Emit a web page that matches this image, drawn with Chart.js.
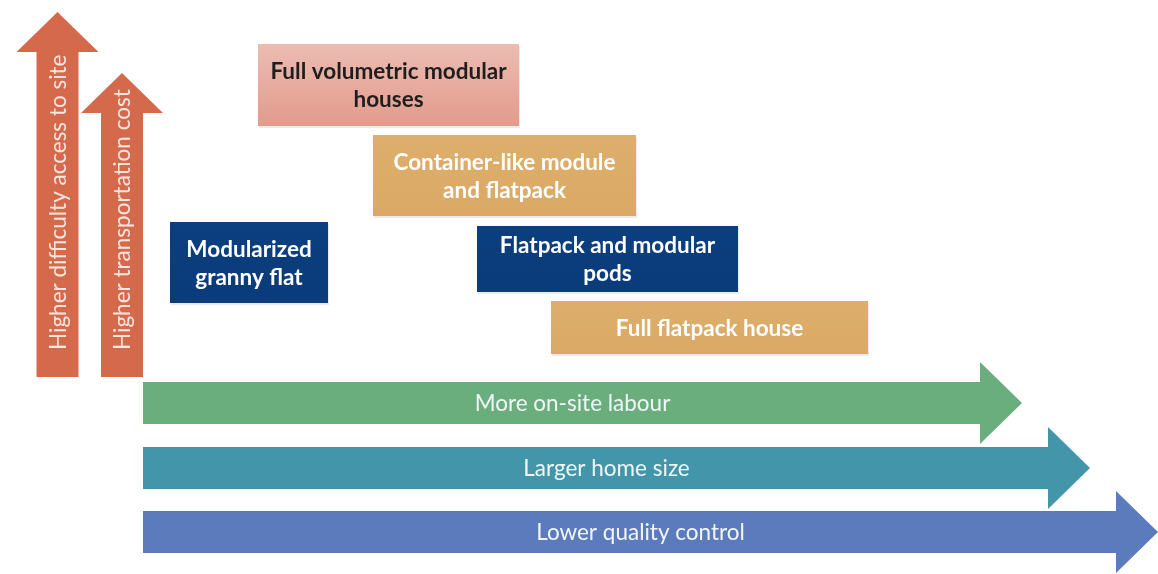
<!DOCTYPE html>
<html>
<head>
<meta charset="utf-8">
<script src="https://cdn.jsdelivr.net/npm/chart.js@4"></script>
<style>
  html, body { margin: 0; padding: 0; background: #ffffff; }
  #wrap { width: 1158px; height: 574px; position: relative; }
</style>
</head>
<body>
<div id="wrap"><canvas id="diagram"></canvas></div>
<script>
// Boxes (housing types), in diagram units on hidden x / y axes
const boxLabels = [
    ['Full volumetric modular', 'houses'],
    ['Container-like module', 'and flatpack'],
    ['Modularized', 'granny flat'],
    ['Flatpack and modular', 'pods'],
    ['Full flatpack house']
];
const boxFrom = [258, 373, 170, 477, 551];
const boxTo = [519, 636, 328, 738, 868];
const boxTop = [44, 135, 222, 226, 301];
const boxBottom = [126, 216, 303, 292, 354];
const boxKind = ['pink', 'gold', 'navy', 'navy', 'gold'];

// Horizontal arrows
const hArrowLabels = ['More on-site labour', 'Larger home size', 'Lower quality control'];
const hArrowStart = [143, 143, 143];
const hArrowEnd = [1022, 1090, 1158];
const hArrowLevel = [403, 468, 532];
const hArrowColors = ['#6aae7d', '#4396a9', '#5b7bbd'];

// Vertical arrows
const vArrowLabels = ['Higher difficulty access to site', 'Higher transportation cost'];
const vArrowPos = [57.5, 122];
const vArrowBase = [377, 377];
const vArrowTip = [12, 73];

const palette = {
    pink: { top: '#ecbcb2', bottom: '#e29b8b', text: '#1e1e1e' },
    gold: { top: '#ddae6c', bottom: '#dba965', text: '#ffffff' },
    navy: { top: '#0c3f80', bottom: '#0a3b7a', text: '#ffffff' }
};

const diagramPlugin = {
    id: 'diagram',
    afterDatasetsDraw(chart) {
        const ctx = chart.ctx;
        const xs = chart.scales.x;
        const ys = chart.scales.y;
        const px = v => xs.getPixelForValue(v);
        const py = v => ys.getPixelForValue(v);
        const shaftHalf = 21;
        const headHalf = 41;
        const headLen = 42;

        ctx.save();

        // vertical arrows
        vArrowLabels.forEach((label, i) => {
            const cx = px(vArrowPos[i]);
            const base = py(vArrowBase[i]);
            const tip = py(vArrowTip[i]);
            ctx.fillStyle = '#d5694b';
            ctx.beginPath();
            ctx.moveTo(cx - shaftHalf, base);
            ctx.lineTo(cx - shaftHalf, tip + headLen - 2);
            ctx.lineTo(cx - headHalf, tip + headLen - 2);
            ctx.lineTo(cx, tip);
            ctx.lineTo(cx + headHalf, tip + headLen - 2);
            ctx.lineTo(cx + shaftHalf, tip + headLen - 2);
            ctx.lineTo(cx + shaftHalf, base);
            ctx.closePath();
            ctx.fill();

            ctx.save();
            ctx.translate(cx, base - 27);
            ctx.rotate(-Math.PI / 2);
            ctx.fillStyle = '#f8e6df';
            ctx.font = '22.5px Lato';
            ctx.textAlign = 'left';
            ctx.textBaseline = 'middle';
            ctx.fillText(label, 0, 1);
            ctx.restore();
        });

        // horizontal arrows
        hArrowLabels.forEach((label, i) => {
            const x0 = px(hArrowStart[i]);
            const x1 = px(hArrowEnd[i]);
            const cy = py(hArrowLevel[i]);
            ctx.fillStyle = hArrowColors[i];
            ctx.beginPath();
            ctx.moveTo(x0, cy - shaftHalf);
            ctx.lineTo(x1 - headLen, cy - shaftHalf);
            ctx.lineTo(x1 - headLen, cy - headHalf);
            ctx.lineTo(x1, cy);
            ctx.lineTo(x1 - headLen, cy + headHalf);
            ctx.lineTo(x1 - headLen, cy + shaftHalf);
            ctx.lineTo(x0, cy + shaftHalf);
            ctx.closePath();
            ctx.fill();

            ctx.fillStyle = '#f2f6f8';
            ctx.font = '22.5px Lato';
            ctx.textAlign = 'center';
            ctx.textBaseline = 'middle';
            ctx.fillText(label, (x0 + x1) / 2 - 10, cy + 1);
        });

        // boxes
        boxLabels.forEach((lines, i) => {
            const l = px(boxFrom[i]);
            const r = px(boxTo[i]);
            const t = py(boxTop[i]);
            const b = py(boxBottom[i]);
            const col = palette[boxKind[i]];

            ctx.fillStyle = 'rgba(0,0,0,0.08)';
            ctx.fillRect(l + 1, t + 2, r - l, b - t);

            const grad = ctx.createLinearGradient(0, t, 0, b);
            grad.addColorStop(0, col.top);
            grad.addColorStop(1, col.bottom);
            ctx.fillStyle = grad;
            ctx.fillRect(l, t, r - l, b - t);

            ctx.fillStyle = col.text;
            ctx.font = 'bold 22.5px Lato';
            ctx.textAlign = 'center';
            ctx.textBaseline = 'middle';
            const lineH = 28;
            const midY = (t + b) / 2 + 1;
            const midX = (l + r) / 2;
            lines.forEach((line, k) => {
                const y = midY + (k - (lines.length - 1) / 2) * lineH;
                ctx.fillText(line, midX, y);
            });
        });

        ctx.restore();
    }
};

new Chart(document.getElementById('diagram'), {
    type: 'scatter',
    data: { datasets: [{ data: [], pointRadius: 0 }] },
    options: {
        responsive: true,
        maintainAspectRatio: false,
        animation: false,
        layout: { padding: 0 },
        plugins: {
            legend: { display: false },
            tooltip: { enabled: false }
        },
        scales: {
            x: { type: 'linear', min: 0, max: 1158, display: false },
            y: { type: 'linear', min: 0, max: 574, reverse: true, display: false }
        }
    },
    plugins: [diagramPlugin]
});
</script>
</body>
</html>
